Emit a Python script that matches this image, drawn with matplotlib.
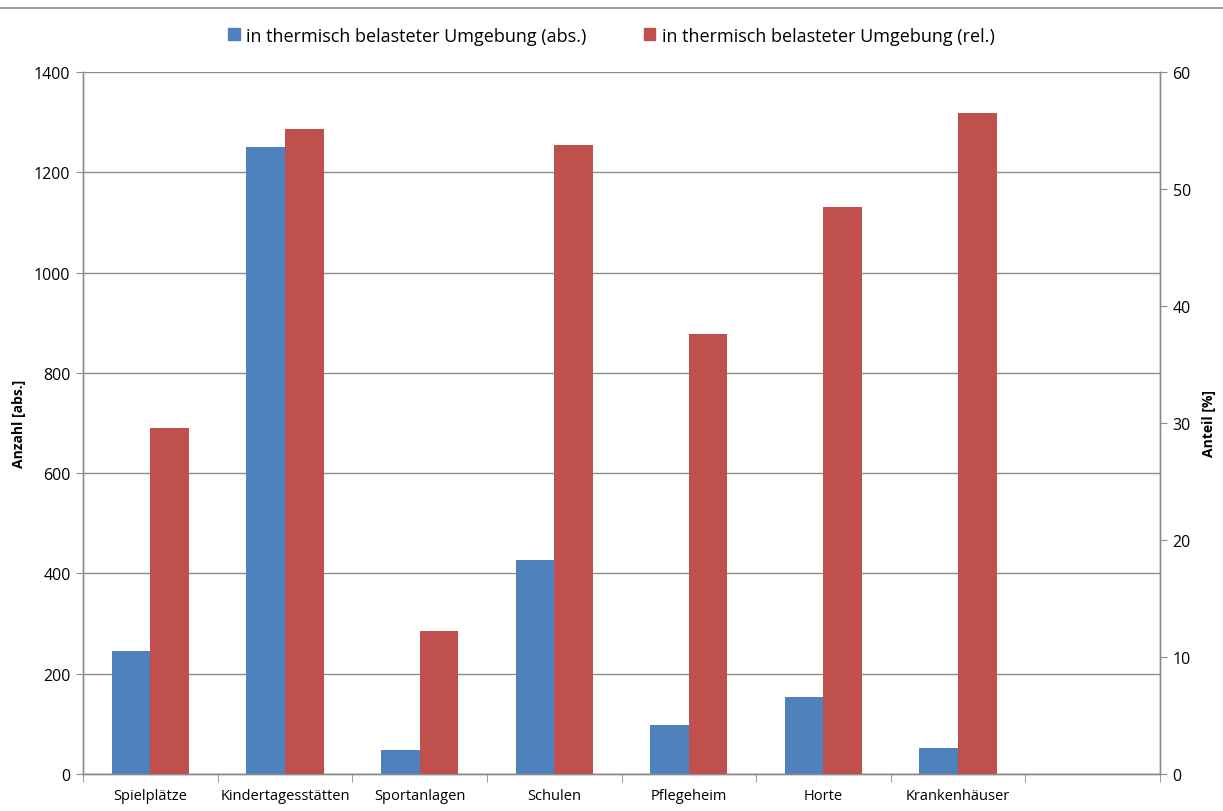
import matplotlib.pyplot as plt
import numpy as np
from matplotlib.lines import Line2D
from matplotlib.patches import Patch

plt.rcParams['font.family'] = ['Open Sans', 'DejaVu Sans']

# Einrichtungen in thermisch belasteter Umgebung
kategorien = ["Spielplätze", "Kindertagesstätten", "Sportanlagen", "Schulen",
              "Pflegeheim", "Horte", "Krankenhäuser"]
anzahl_abs = [245, 1251, 48, 427, 97, 153, 51]
anteil_rel = [29.6, 55.1, 12.2, 53.8, 37.6, 48.5, 56.5]

blau = "#4F81BD"
rot = "#C0504D"
grau = "#8C8C8C"

fig = plt.figure(figsize=(12.23, 8.12), dpi=100)
ax = fig.add_axes([0.0679, 0.0456, 0.8806, 0.8645])
ax2 = ax.twinx()

x = np.arange(len(kategorien))
breite = 0.287
ax.bar(x - breite / 2, anzahl_abs, breite, color=blau, zorder=3)
ax2.bar(x + breite / 2, anteil_rel, breite, color=rot, zorder=3)

# 8 Felder auf der x-Achse, das letzte bleibt leer
ax.set_xlim(-0.5, 7.5)
ax.set_ylim(0, 1400)
ax2.set_ylim(0, 60)
ax.set_yticks(range(0, 1401, 200))
ax2.set_yticks(range(0, 61, 10))

ax.set_xticks(x)
ax.set_xticklabels(kategorien, fontsize=10.5)
ax.set_xticks(np.arange(-0.5, 7.6, 1), minor=True)
ax.tick_params(axis='x', which='major', length=0, pad=10)
ax.tick_params(axis='x', which='minor', length=6, color=grau, direction='out')
ax.tick_params(axis='y', length=5, color=grau, labelsize=11.5, pad=4)
ax2.tick_params(axis='y', length=5, color=grau, labelsize=11.5, pad=4)

ax.yaxis.grid(True, color=grau, linewidth=1, zorder=0)
ax.set_axisbelow(True)

for a in (ax, ax2):
    a.spines['top'].set_visible(False)
    for s in ('left', 'right', 'bottom'):
        a.spines[s].set_color(grau)
        a.spines[s].set_linewidth(1)

ax.set_ylabel("Anzahl [abs.]", fontsize=10, fontweight='bold', labelpad=6)
ax2.set_ylabel("Anteil [%]", fontsize=10, fontweight='bold', labelpad=8)

handles = [Patch(color=blau), Patch(color=rot)]
labels = ["in thermisch belasteter Umgebung (abs.)",
          "in thermisch belasteter Umgebung (rel.)"]
fig.legend(handles, labels, loc='center', bbox_to_anchor=(0.5, 0.955), ncol=2,
           frameon=False, fontsize=13, handlelength=0.62, handleheight=0.62,
           handletextpad=0.35, columnspacing=3.2)

# Linie am oberen Rand
fig.add_artist(Line2D([0, 1], [1 - 8.5 / 812, 1 - 8.5 / 812], color=grau,
                      linewidth=1.2, transform=fig.transFigure))

fig.savefig("out.png", dpi=100)
